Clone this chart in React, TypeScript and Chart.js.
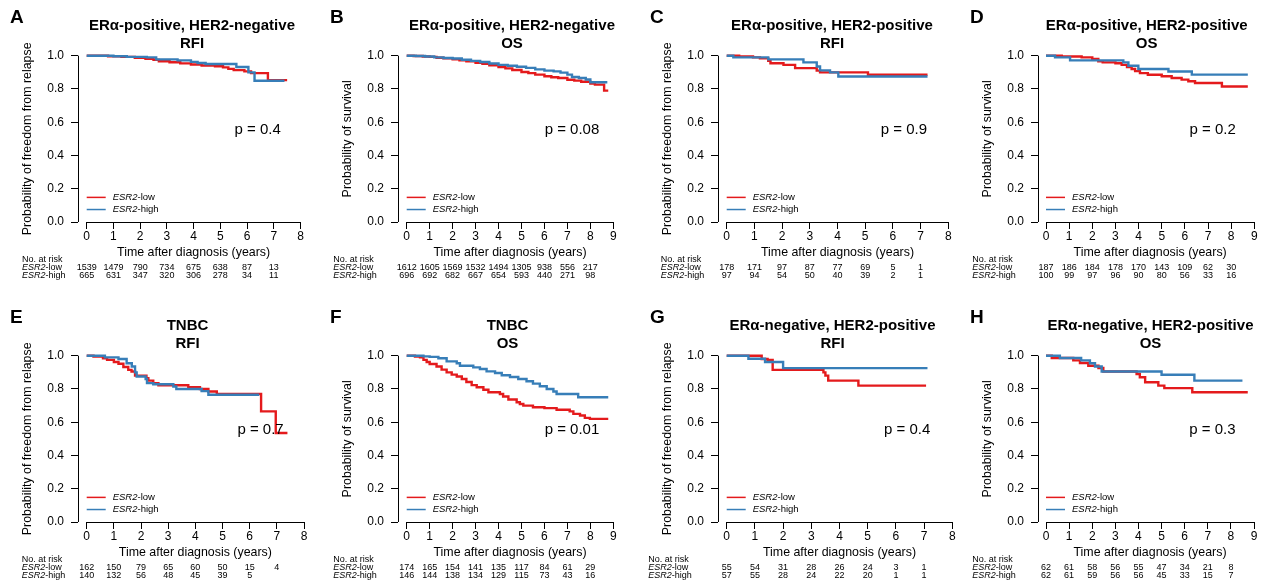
import { useEffect, useRef } from "react";
import { Chart, registerables } from "chart.js";

Chart.register(...registerables);

const FONT = '"Liberation Sans", Arial, Helvetica, sans-serif';
const RED = "#E41A1C";
const BLUE = "#377EB8";

// ---------- data (years, survival probability) ----------
const A_low = [[0,1],[0.8,0.997],[1.3,0.993],[1.8,0.988],[2.2,0.982],[2.5,0.975],[2.7,0.967],[3.1,0.961],[3.5,0.954],[3.9,0.947],[4.3,0.941],[4.8,0.937],[5.1,0.93],[5.3,0.921],[5.5,0.913],[5.9,0.906],[6.15,0.895],[6.78,0.853],[7.5,0.853]];
const A_high = [[0,1],[1.0,0.997],[1.5,0.993],[2.25,0.99],[2.6,0.978],[3.4,0.972],[3.9,0.963],[4.15,0.956],[4.45,0.95],[5.6,0.932],[6.05,0.9],[6.28,0.849],[7.4,0.849]];
const B_low = [[0,1],[0.3,0.998],[0.7,0.995],[1.0,0.993],[1.3,0.988],[1.6,0.984],[2.0,0.978],[2.3,0.972],[2.6,0.966],[3.0,0.957],[3.3,0.951],[3.6,0.943],[4.0,0.932],[4.3,0.924],[4.6,0.914],[5.0,0.902],[5.3,0.895],[5.6,0.886],[6.0,0.876],[6.3,0.87],[6.6,0.866],[7.0,0.855],[7.3,0.85],[7.6,0.843],[8.0,0.832],[8.2,0.826],[8.6,0.79],[8.78,0.79]];
const B_high = [[0,1],[0.4,0.998],[0.8,0.995],[1.2,0.99],[1.6,0.986],[2.0,0.983],[2.4,0.976],[2.8,0.969],[3.2,0.962],[3.6,0.953],[4.0,0.945],[4.4,0.94],[4.8,0.934],[5.2,0.927],[5.6,0.918],[6.0,0.91],[6.4,0.906],[6.7,0.898],[7.0,0.886],[7.2,0.872],[7.5,0.866],[7.8,0.857],[8.0,0.84],[8.74,0.84]];
const C_low = [[0,1],[0.45,0.995],[0.95,0.99],[1.2,0.984],[1.5,0.97],[1.58,0.955],[2.05,0.945],[2.47,0.925],[3.25,0.91],[3.37,0.9],[5.1,0.885],[7.25,0.885]];
const C_high = [[0,1],[0.24,0.99],[1.5,0.978],[2.77,0.96],[3.25,0.935],[3.37,0.912],[3.73,0.9],[4.03,0.875],[7.25,0.875]];
const D_low = [[0,1],[0.68,0.995],[1.54,0.99],[2.0,0.98],[2.26,0.966],[2.45,0.96],[3.0,0.955],[3.27,0.945],[3.5,0.932],[3.7,0.92],[3.85,0.907],[4.06,0.895],[4.4,0.885],[5.0,0.876],[5.43,0.866],[5.86,0.856],[6.15,0.846],[6.44,0.836],[7.6,0.815],[8.72,0.815]];
const D_high = [[0,1],[0.39,0.99],[1.04,0.972],[3.34,0.96],[3.56,0.94],[3.99,0.92],[5.29,0.905],[6.3,0.886],[8.72,0.886]];
const E_low = [[0,1],[0.25,0.995],[0.6,0.985],[0.75,0.975],[1.0,0.962],[1.17,0.952],[1.35,0.932],[1.53,0.915],[1.65,0.905],[1.78,0.88],[2.2,0.865],[2.27,0.85],[2.45,0.835],[2.64,0.822],[3.74,0.81],[4.17,0.8],[4.48,0.785],[4.79,0.77],[6.42,0.665],[6.96,0.535],[7.39,0.535]];
const E_high = [[0,1],[0.67,0.99],[1.17,0.98],[1.47,0.955],[1.66,0.935],[1.78,0.9],[1.84,0.875],[2.17,0.86],[2.22,0.835],[2.45,0.828],[3.19,0.815],[3.3,0.8],[4.23,0.787],[4.48,0.765],[6.35,0.765]];
const F_low = [[0,1],[0.36,0.995],[0.58,0.99],[0.73,0.975],[0.87,0.962],[1.0,0.95],[1.3,0.935],[1.52,0.916],[1.74,0.9],[1.96,0.886],[2.18,0.875],[2.4,0.86],[2.6,0.842],[2.83,0.823],[3.05,0.81],[3.34,0.795],[3.56,0.78],[4.06,0.77],[4.2,0.755],[4.43,0.737],[4.79,0.72],[4.93,0.71],[5.08,0.7],[5.5,0.69],[6.0,0.685],[6.53,0.675],[7.1,0.665],[7.26,0.65],[7.55,0.64],[7.76,0.626],[7.98,0.62],[8.78,0.62]];
const F_high = [[0,1],[0.73,0.996],[1.0,0.993],[1.38,0.985],[1.74,0.966],[2.18,0.955],[2.32,0.94],[2.9,0.93],[3.19,0.92],[3.48,0.906],[3.85,0.896],[4.14,0.882],[4.5,0.872],[4.86,0.86],[5.22,0.846],[5.5,0.832],[5.8,0.816],[6.1,0.8],[6.39,0.785],[6.53,0.77],[7.47,0.75],[8.78,0.75]];
const G_low = [[0,1],[1.24,0.98],[1.45,0.975],[1.63,0.915],[3.43,0.9],[3.5,0.88],[3.6,0.85],[4.67,0.82],[7.07,0.82]];
const G_high = [[0,1],[0.77,0.982],[1.36,0.962],[2.0,0.925],[7.12,0.925]];
const H_low = [[0,1],[0.25,0.986],[1.18,0.972],[1.47,0.956],[1.83,0.94],[2.27,0.926],[2.48,0.905],[3.92,0.89],[4.06,0.87],[4.29,0.84],[4.86,0.82],[5.12,0.805],[6.33,0.78],[8.73,0.78]];
const H_high = [[0,1],[0.6,0.986],[1.52,0.972],[1.9,0.955],[2.12,0.935],[2.41,0.905],[5.0,0.885],[6.42,0.85],[8.5,0.85]];

// numbers at risk
const A_riskLow = [1539, 1479, 790, 734, 675, 638, 87, 13];
const A_riskHigh = [665, 631, 347, 320, 306, 278, 34, 11];
const B_riskLow = [1612, 1605, 1569, 1532, 1494, 1305, 938, 556, 217];
const B_riskHigh = [696, 692, 682, 667, 654, 593, 440, 271, 98];
const C_riskLow = [178, 171, 97, 87, 77, 69, 5, 1];
const C_riskHigh = [97, 94, 54, 50, 40, 39, 2, 1];
const D_riskLow = [187, 186, 184, 178, 170, 143, 109, 62, 30];
const D_riskHigh = [100, 99, 97, 96, 90, 80, 56, 33, 16];
const E_riskLow = [162, 150, 79, 65, 60, 50, 15, 4];
const E_riskHigh = [140, 132, 56, 48, 45, 39, 5];
const F_riskLow = [174, 165, 154, 141, 135, 117, 84, 61, 29];
const F_riskHigh = [146, 144, 138, 134, 129, 115, 73, 43, 16];
const G_riskLow = [55, 54, 31, 28, 26, 24, 3, 1];
const G_riskHigh = [57, 55, 28, 24, 22, 20, 1, 1];
const H_riskLow = [62, 61, 58, 56, 55, 47, 34, 21, 8];
const H_riskHigh = [62, 61, 59, 56, 56, 45, 33, 15, 7];

const LETTERS = ["A", "B", "C", "D", "E", "F", "G", "H"];
const TITLES = [
  ["ERα-positive, HER2-negative", "RFI"],
  ["ERα-positive, HER2-negative", "OS"],
  ["ERα-positive, HER2-positive", "RFI"],
  ["ERα-positive, HER2-positive", "OS"],
  ["TNBC", "RFI"],
  ["TNBC", "OS"],
  ["ERα-negative, HER2-positive", "RFI"],
  ["ERα-negative, HER2-positive", "OS"],
];
const P_VALUES = ["p = 0.4", "p = 0.08", "p = 0.9", "p = 0.2", "p = 0.7", "p = 0.01", "p = 0.4", "p = 0.3"];
const X_MAX = [8, 9, 8, 9, 8, 9, 8, 9];
const Y_TICKS = [0, 0.2, 0.4, 0.6, 0.8, 1.0];
const Y_TITLE_RFI = "Probability of freedom from relapse";
const Y_TITLE_OS = "Probability of survival";
const X_TITLE = "Time after diagnosis (years)";
const LOW_SERIES = [A_low, B_low, C_low, D_low, E_low, F_low, G_low, H_low];
const HIGH_SERIES = [A_high, B_high, C_high, D_high, E_high, F_high, G_high, H_high];
const RISK_LOW = [A_riskLow, B_riskLow, C_riskLow, D_riskLow, E_riskLow, F_riskLow, G_riskLow, H_riskLow];
const RISK_HIGH = [A_riskHigh, B_riskHigh, C_riskHigh, D_riskHigh, E_riskHigh, F_riskHigh, G_riskHigh, H_riskHigh];

// ---------- layout (pixels, relative to each panel) ----------
const PANEL_W = 320;
const PANEL_H = 300;
const AXIS_LEFT = 78;
const PLOT_TOP = 55.7;
const PLOT_BOTTOM = 222;
const X0_PX = [86.7, 86.7, 86.7, 86, 86.7, 86.7, 86.7, 86];
const XMAX_PX = [300.5, 293.3, 308.3, 294.3, 304, 293.3, 312.3, 294];
const TITLE_CX = [192, 192, 192, 186.7, 187.5, 187.5, 192.5, 190.5];
const RISK_LABEL_X = [22, 13.3, 20.7, 12.3, 21.7, 13.3, 8.3, 12.3];

function drawMixed(ctx: CanvasRenderingContext2D, x: number, y: number, italic: string, rest: string, size: number) {
  ctx.textAlign = "left";
  ctx.font = `italic ${size}px ${FONT}`;
  ctx.fillText(italic, x, y);
  const w = ctx.measureText(italic).width;
  ctx.font = `${size}px ${FONT}`;
  ctx.fillText(rest, x + w, y);
}

function makeAnnotPlugin(i: number) {
  return {
    id: "annot" + i,
    afterDraw(chart: any) {
      const ctx: CanvasRenderingContext2D = chart.ctx;
      const xs = chart.scales.x;
      const ys = chart.scales.y;
      const xmax = X_MAX[i];
      ctx.save();
      ctx.fillStyle = "#000";
      ctx.strokeStyle = "#000";
      ctx.lineWidth = 1;
      // axis lines (R style: from first to last tick)
      const ax = Math.round(chart.chartArea.left) + 0.5;
      const ay = Math.round(chart.chartArea.bottom) + 0.5;
      ctx.beginPath();
      ctx.moveTo(ax, ys.getPixelForValue(1));
      ctx.lineTo(ax, ys.getPixelForValue(0));
      ctx.moveTo(xs.getPixelForValue(0), ay);
      ctx.lineTo(xs.getPixelForValue(xmax), ay);
      ctx.stroke();

      // panel letter
      ctx.textBaseline = "alphabetic";
      ctx.textAlign = "left";
      ctx.font = `bold 19px ${FONT}`;
      ctx.fillText(LETTERS[i], 10, 23.3);

      // title
      ctx.textAlign = "center";
      ctx.font = `bold 15px ${FONT}`;
      ctx.fillText(TITLES[i][0], TITLE_CX[i], 30);
      ctx.fillText(TITLES[i][1], TITLE_CX[i], 48.3);

      // y title
      ctx.save();
      ctx.translate(28, (ys.getPixelForValue(1) + ys.getPixelForValue(0)) / 2);
      ctx.rotate(-Math.PI / 2);
      ctx.font = `12.4px ${FONT}`;
      ctx.textAlign = "center";
      ctx.textBaseline = "middle";
      ctx.fillText(i % 2 === 0 ? Y_TITLE_RFI : Y_TITLE_OS, 0, 0);
      ctx.restore();

      // x title
      ctx.textAlign = "center";
      ctx.textBaseline = "alphabetic";
      ctx.font = `12.4px ${FONT}`;
      ctx.fillText(X_TITLE, (xs.getPixelForValue(0) + xs.getPixelForValue(xmax)) / 2, 256);

      // p value
      ctx.font = `15px ${FONT}`;
      ctx.fillText(P_VALUES[i], xs.getPixelForValue(0.8 * xmax), ys.getPixelForValue(0.527));

      // legend
      const lx = xs.getPixelForValue(0);
      const legendRows: [string, string, number][] = [[RED, "-low", 0.148], [BLUE, "-high", 0.075]];
      legendRows.forEach(([col, txt, v]) => {
        const yy = ys.getPixelForValue(v);
        ctx.strokeStyle = col;
        ctx.lineWidth = 1.5;
        ctx.beginPath();
        ctx.moveTo(lx, yy);
        ctx.lineTo(lx + 19, yy);
        ctx.stroke();
        ctx.fillStyle = "#000";
        ctx.textBaseline = "middle";
        drawMixed(ctx, lx + 26, yy, "ESR2", txt, 9.5);
      });

      // numbers at risk
      ctx.textBaseline = "alphabetic";
      ctx.fillStyle = "#000";
      ctx.textAlign = "left";
      ctx.font = `9px ${FONT}`;
      ctx.fillText("No. at risk", RISK_LABEL_X[i], 261.7);
      drawMixed(ctx, RISK_LABEL_X[i], 269.5, "ESR2", "-low", 9);
      drawMixed(ctx, RISK_LABEL_X[i], 277.5, "ESR2", "-high", 9);
      ctx.textAlign = "center";
      ctx.font = `9px ${FONT}`;
      RISK_LOW[i].forEach((n, k) => ctx.fillText(String(n), xs.getPixelForValue(k), 269.5));
      RISK_HIGH[i].forEach((n, k) => ctx.fillText(String(n), xs.getPixelForValue(k), 277.5));
      ctx.restore();
    },
  };
}

function KMPanel({ i }: { i: number }) {
  const ref = useRef<HTMLCanvasElement | null>(null);
  useEffect(() => {
    if (!ref.current) return;
    const xmax = X_MAX[i];
    const ppy = (XMAX_PX[i] - X0_PX[i]) / xmax;
    const xmin = -(X0_PX[i] - AXIS_LEFT) / ppy;
    const toPts = (arr: number[][]) => arr.map(([x, y]) => ({ x, y }));
    const tickFont = { family: FONT, size: 12 };
    const chart = new Chart(ref.current, {
      type: "line",
      data: {
        datasets: [
          { label: "ESR2-high", data: toPts(HIGH_SERIES[i]), borderColor: BLUE, borderWidth: 2.4, pointRadius: 0, stepped: "before", clip: false as any, order: 0, fill: false },
          { label: "ESR2-low", data: toPts(LOW_SERIES[i]), borderColor: RED, borderWidth: 2.4, pointRadius: 0, stepped: "before", clip: false as any, order: 1, fill: false },
        ],
      },
      options: {
        animation: false,
        responsive: false,
        maintainAspectRatio: false,
        devicePixelRatio: 1,
        events: [],
        layout: { autoPadding: false, padding: { left: 0, top: PLOT_TOP, right: PANEL_W - XMAX_PX[i], bottom: 0 } },
        plugins: { legend: { display: false }, tooltip: { enabled: false }, title: { display: false } },
        scales: {
          x: {
            type: "linear",
            min: xmin,
            max: xmax,
            afterFit: (s: any) => { s.height = PANEL_H - PLOT_BOTTOM; },
            afterBuildTicks: (s: any) => {
              const t = [];
              for (let k = 0; k <= xmax; k++) t.push({ value: k });
              s.ticks = t;
            },
            border: { display: false },
            grid: { display: true, drawOnChartArea: false, drawTicks: true, tickLength: 7, color: "#000", lineWidth: 1 },
            ticks: { font: tickFont, color: "#000", padding: 0, maxRotation: 0, autoSkip: false, callback: (v: any) => String(v) },
          },
          y: {
            type: "linear",
            min: 0,
            max: 1,
            afterFit: (s: any) => { s.width = AXIS_LEFT; },
            afterBuildTicks: (s: any) => { s.ticks = Y_TICKS.map((v) => ({ value: v })); },
            border: { display: false },
            grid: { display: true, drawOnChartArea: false, drawTicks: true, tickLength: 7, color: "#000", lineWidth: 1 },
            ticks: { font: tickFont, color: "#000", padding: 7, autoSkip: false, callback: (v: any) => Number(v).toFixed(1) },
          },
        },
      } as any,
      plugins: [makeAnnotPlugin(i)],
    });
    return () => chart.destroy();
  }, [i]);
  const col = i % 4;
  const row = Math.floor(i / 4);
  return (
    <canvas
      ref={ref}
      width={PANEL_W}
      height={PANEL_H}
      style={{ position: "absolute", left: col * PANEL_W, top: row * PANEL_H, width: PANEL_W, height: PANEL_H, display: "block" }}
    />
  );
}

export default function App() {
  return (
    <div style={{ position: "absolute", left: 0, top: 0, width: 1270, height: 583, overflow: "hidden", background: "#fff" }}>
      {LETTERS.map((_, i) => (
        <KMPanel key={i} i={i} />
      ))}
    </div>
  );
}
